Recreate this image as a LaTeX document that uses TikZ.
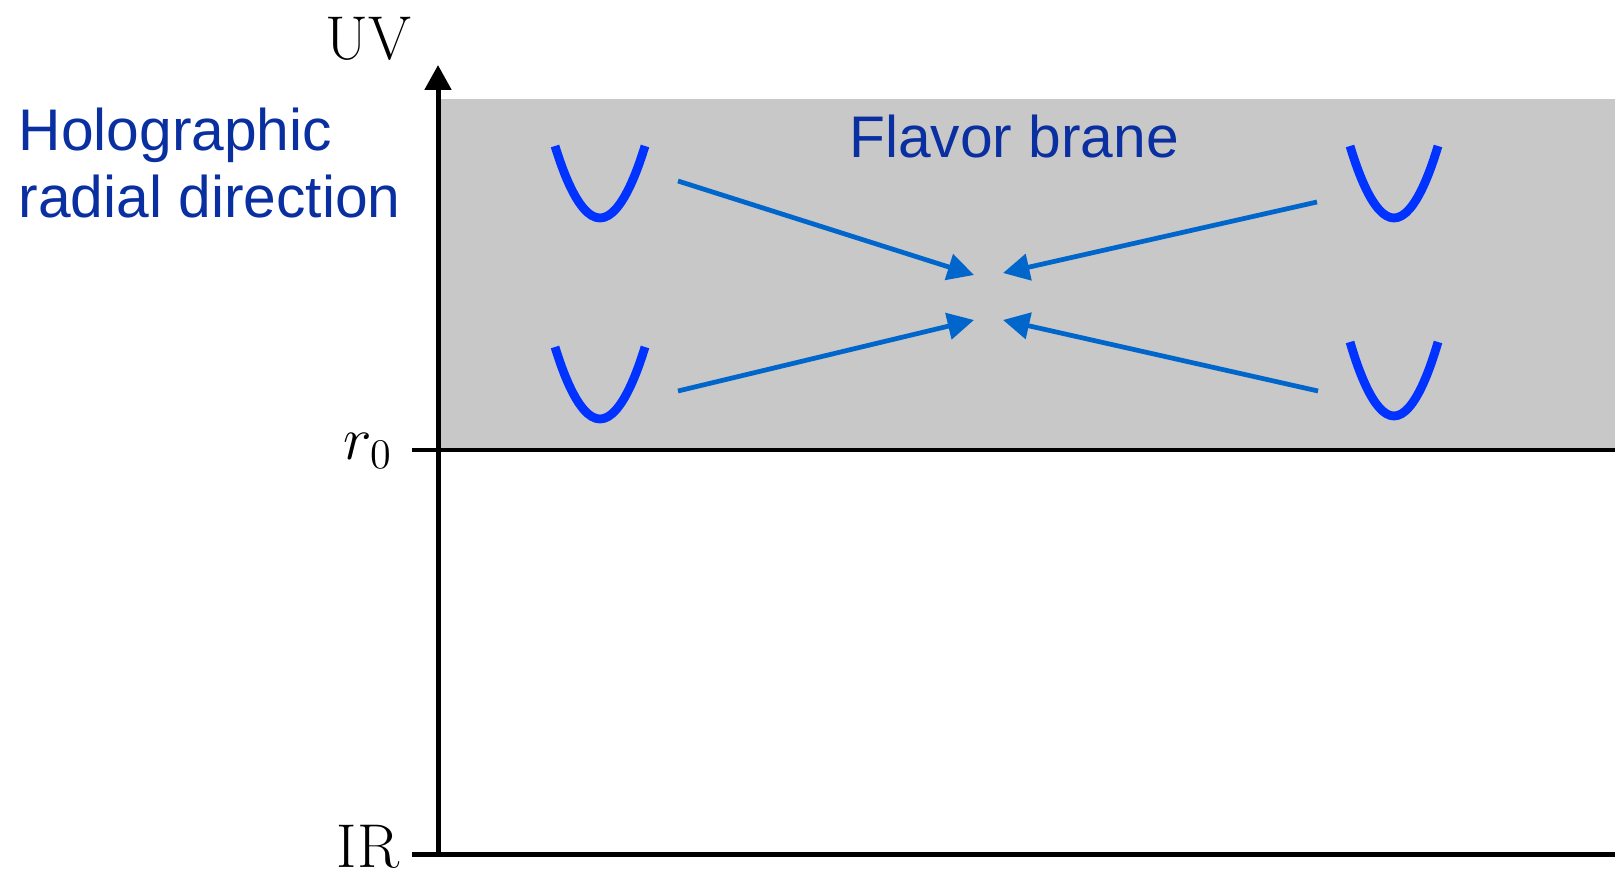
\documentclass[tikz,border=0pt]{standalone}
\usepackage{fontspec}
\newfontfamily\arialfont{Liberation Sans}
\usetikzlibrary{arrows.meta}
\definecolor{bandgray}{RGB}{200,200,200}
\definecolor{labelblue}{RGB}{10,47,160}
\definecolor{bowlblue}{RGB}{0,51,255}
\definecolor{arrowblue}{RGB}{0,102,204}
\tikzset{
  axisline/.style={line width=1.42pt,black},
  bowl/.style={line width=2.5pt,bowlblue,line cap=butt},
  flowarrow/.style={line width=1.35pt,arrowblue,-{Triangle[length=7.5pt,width=7.5pt]}},
  bluetext/.style={font=\arialfont\fontsize{16.7pt}{19.06pt}\selectfont,text=labelblue,inner sep=0pt},
  axislabel/.style={font=\fontsize{17.6pt}{21pt}\selectfont,inner sep=0pt}
}
\begin{document}
\begin{tikzpicture}[x=0.01cm,y=-0.01cm]
\useasboundingbox (0,0) rectangle (1615,876);
% band
\fill[bandgray] (440,99) rectangle (1615,450);
% coordinates
\coordinate (axbot) at (438,854);
\coordinate (axtop) at (438,65);
\coordinate (rtickL) at (412,450);
\coordinate (rtickR) at (1615,450);
\coordinate (irL) at (412,854);
\coordinate (irR) at (1615,854);
% axis
\draw[axisline,-{Triangle[length=7.1pt,width=7.4pt]}] (axbot) -- (axtop);
\draw[axisline] (rtickL) -- (rtickR);
\draw[axisline] (irL) -- (irR);
% labels
\node[axislabel,anchor=base] (uv) at (368,60) {UV};
\node[axislabel,anchor=base] (r0) at (368,459) {$r_0$};
\node[axislabel,anchor=base] (ir) at (368,867) {IR};
\node[bluetext,anchor=base west,align=left] (holo) at (18,218) {Holographic\\radial direction};
\node[bluetext,anchor=base] (flavor) at (1014,158) {Flavor brane};
% bowls
\draw[bowl] (555,146) parabola bend (600,218) (645,146);
\draw[bowl] (1350,146) parabola bend (1394,218) (1438,146);
\draw[bowl] (555,347) parabola bend (600,419) (645,347);
\draw[bowl] (1350,342) parabola bend (1394,416) (1438,342);
% arrows
\coordinate (a1s) at (678,181);
\coordinate (a1e) at (974,275);
\coordinate (a2s) at (1317,202);
\coordinate (a2e) at (1003,273);
\coordinate (a3s) at (678,391);
\coordinate (a3e) at (974,320);
\coordinate (a4s) at (1318,391);
\coordinate (a4e) at (1003,320);
\draw[flowarrow] (a1s) -- (a1e);
\draw[flowarrow] (a2s) -- (a2e);
\draw[flowarrow] (a3s) -- (a3e);
\draw[flowarrow] (a4s) -- (a4e);
\end{tikzpicture}
\end{document}
